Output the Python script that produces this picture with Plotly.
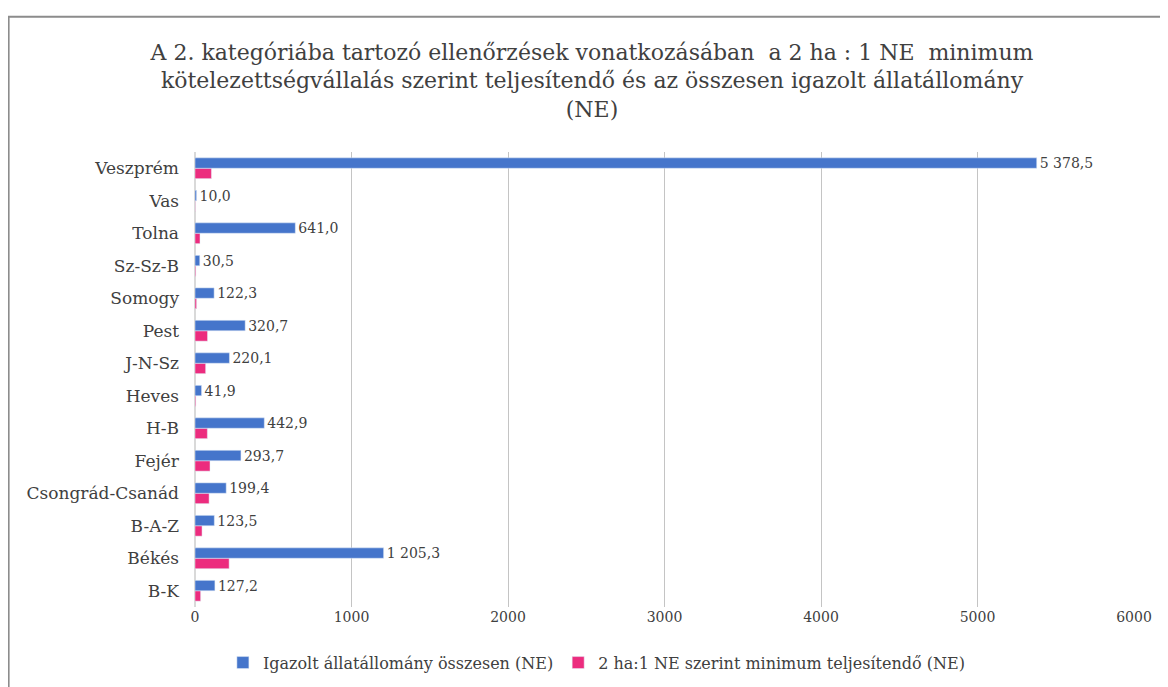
import plotly.graph_objects as go

categories = ["B-K", "Békés", "B-A-Z", "Csongrád-Csanád", "Fejér", "H-B", "Heves",
              "J-N-Sz", "Pest", "Somogy", "Sz-Sz-B", "Tolna", "Vas", "Veszprém"]
igazolt = [127.2, 1205.3, 123.5, 199.4, 293.7, 442.9, 41.9,
           220.1, 320.7, 122.3, 30.5, 641.0, 10.0, 5378.5]
minimum = [36, 218, 45, 90, 96, 79, 5,
           68, 80, 10, 5, 32, 2, 105]
x_ticks = [0, 1000, 2000, 3000, 4000, 5000, 6000]

name_blue = "Igazolt állatállomány összesen (NE)"
name_pink = "2 ha:1 NE szerint minimum teljesítendő (NE)"


def fmt(v):
    s = f"{v:,.1f}"
    return s.replace(",", " ").replace(".", ",")


labels = [fmt(v) for v in igazolt]
serif = "DejaVu Serif, Liberation Serif, serif"

fig = go.Figure()
fig.add_trace(go.Bar(y=categories, x=minimum, orientation="h", name=name_pink,
                     marker_color="#EC2C7E"))
fig.add_trace(go.Bar(y=categories, x=igazolt, orientation="h", name=name_blue,
                     marker_color="#4575CB", text=labels, textposition="outside",
                     constraintext="none",
                     textfont=dict(family=serif, size=14, color="#404040"),
                     cliponaxis=False))

fig.update_layout(
    width=1168, height=687,
    barmode="group", bargap=0.36, bargroupgap=0,
    plot_bgcolor="white", paper_bgcolor="white",
    margin=dict(l=187, r=42, t=144, b=88, autoexpand=False),
    title=dict(text="A 2. kategóriába tartozó ellenőrzések vonatkozásában  a 2 ha : 1 NE  minimum<br>"
                    "kötelezettségvállalás szerint teljesítendő és az összesen igazolt állatállomány<br>(NE)",
               x=0.5, xref="container", xanchor="center", y=0.925, yanchor="top",
               font=dict(family=serif, size=22, color="#404040")),
    xaxis=dict(range=[0, 6000], tickvals=x_ticks, ticktext=[str(t) for t in x_ticks],
               showgrid=True, gridcolor="#C4C4C4", gridwidth=1,
               zeroline=True, zerolinecolor="#D9D9D9", automargin=False,
               tickfont=dict(family=serif, size=14, color="#404040"), ticks=""),
    yaxis=dict(tickfont=dict(family=serif, size=17, color="#404040"), ticks="",
               ticklabelstandoff=15, showgrid=False, automargin=False),
    legend=dict(orientation="h", x=0.428, xanchor="center", y=-0.085, yanchor="top",
                traceorder="reversed",
                font=dict(family=serif, size=16, color="#404040")),
    shapes=[dict(type="rect", xref="paper", yref="paper",
                 x0=-0.1985, x1=1.0363, y0=-0.3, y1=1.297,
                 line=dict(color="#8C8C8C", width=2), fillcolor="rgba(0,0,0,0)",
                 layer="below")],
)

fig.write_html("out.html")
